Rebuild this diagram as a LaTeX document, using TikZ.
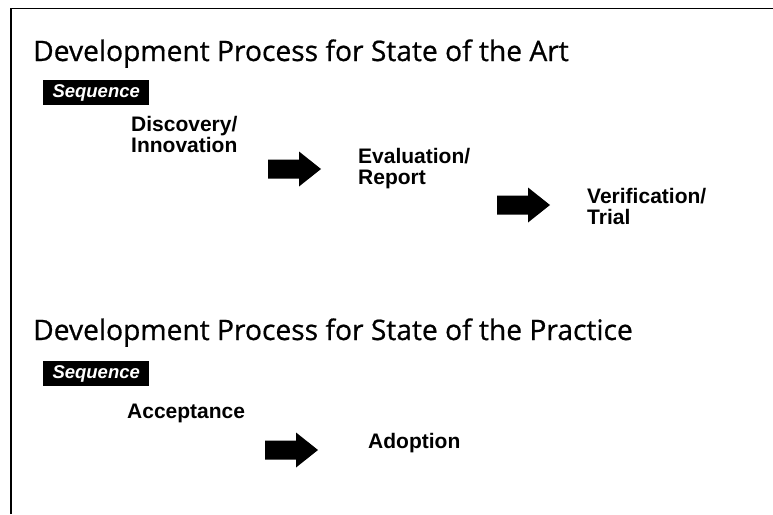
\documentclass[tikz,border=0pt]{standalone}
\usepackage{fontspec}
\newfontfamily\titlefont[FakeBold=0.7]{Open Sans}
\newfontfamily\lblfont{Liberation Sans}
\tikzset{
  ttl/.style={anchor=base west, inner sep=0pt, font=\titlefont\fontsize{28.2}{30}\selectfont},
  seqbox/.style={fill=black, text=white, anchor=north west, inner sep=0pt,
    minimum width=106pt, minimum height=25pt,
    font=\lblfont\bfseries\itshape\fontsize{18.5}{19}\selectfont},
  lbl/.style={anchor=base west, inner sep=0pt, align=left,
    font=\lblfont\bfseries\fontsize{21}{20.5}\selectfont},
  blockarr/.pic={\fill[black] (0,-9.5) -- (31,-9.5) -- (31,-17.5) -- (53,0) -- (31,17.5) -- (31,9.5) -- (0,9.5) -- cycle;},
  frameline/.style={line width=1.5pt, black}
}
\begin{document}
\begin{tikzpicture}[x=1pt, y=-1pt]
\useasboundingbox (0,0) rectangle (773,514);
\draw[frameline] (11,514) -- (11,8.5) -- (773,8.5);
% top section
\node[ttl] (t1) at (33,61) {Development Process for State of the Art};
\node[seqbox] (s1) at (43,80) {Sequence};
\node[lbl] (d1) at (131,152) {Discovery/\\Innovation};
\pic at (268,169) {blockarr};
\node[lbl] (e1) at (358,184) {Evaluation/\\Report};
\pic at (497,205) {blockarr};
\node[lbl] (v1) at (587,224) {Verification/\\Trial};
% bottom section
\node[ttl] (t2) at (33,340) {Development Process for State of the Practice};
\node[seqbox] (s2) at (43,361) {Sequence};
\node[lbl] (a1) at (127,418) {Acceptance};
\pic at (265,450) {blockarr};
\node[lbl] (a2) at (368,448) {Adoption};
\end{tikzpicture}
\end{document}
